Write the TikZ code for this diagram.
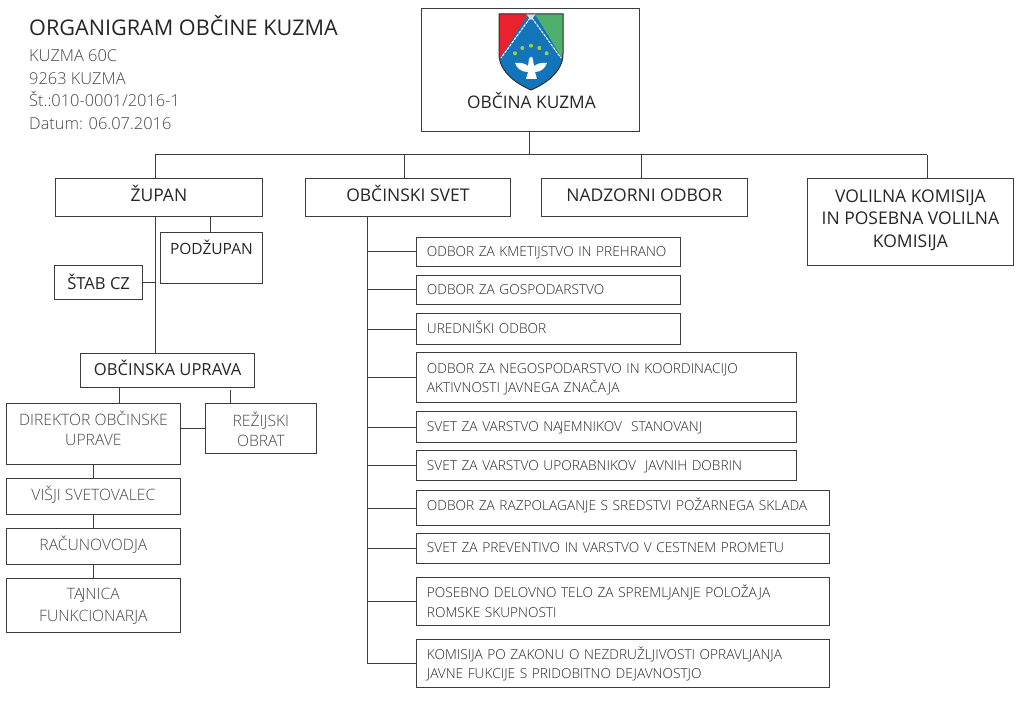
\documentclass[tikz,border=0pt]{standalone}
\usepackage{fontspec}
\setmainfont{Open Sans}
\newfontfamily\lightf{Open Sans Light}
\definecolor{linec}{HTML}{3C3C3C}
\definecolor{darkt}{HTML}{262626}
\definecolor{greyt}{HTML}{484848}
\definecolor{shred}{HTML}{E9222D}
\definecolor{shgreen}{HTML}{4FB06D}
\definecolor{shblue}{HTML}{1274BB}
\definecolor{shdot}{HTML}{A4CF3A}
\tikzset{
 base/.style={draw=linec,line width=1pt,inner sep=0pt,outer sep=0pt,align=center},
 main/.style={base,font=\fontsize{17.5}{22.5}\selectfont,text=darkt},
 minor/.style={base,font=\fontsize{16.6}{22}\selectfont,text=darkt},
 mid/.style={base,font=\lightf\fontsize{15.7}{20.5}\selectfont,text=greyt},
 sub/.style={base,font=\lightf\fontsize{13.7}{19.5}\selectfont,text=darkt,align=left},
 conn/.style={draw=linec,line width=1pt},
 head/.style={anchor=north west,inner sep=0pt,align=left}
}
\newcommand{\tx}[3]{\raisebox{#1}[0pt][0pt]{\begin{tabular}{@{}#2@{}}#3\end{tabular}}}
\newcommand{\bx}[6]{\node[#5,minimum width={(#3-#1-0.2)*1pt},minimum height={(#4-#2-0.5)*1pt}] (#6) at ({(#1+#3)/2-0.1},{(#2+#4)/2-0.25+0.3})}
\newcommand{\sx}[5]{\node[sub,minimum width={(#3-#1-0.2)*1pt},minimum height={(#4-#2-0.5)*1pt},text width={(#3-#1-22)*1pt}] (#5) at ({(#1+#3)/2-0.1},{(#2+#4)/2})}
\begin{document}
\begin{tikzpicture}[x=1pt,y=-1pt]
\useasboundingbox (0,0) rectangle (1024,708);
\fill[white] (0,0) rectangle (1024,708);
% heading
\node[head,font=\fontsize{21.6}{26}\selectfont,text=darkt] (title) at (29,15) {ORGANIGRAM OBČINE KUZMA};
\node[head,font=\lightf\fontsize{16.4}{22.6}\selectfont,text=greyt] (addr) at (29,42.5) {\rule{0pt}{19pt}KUZMA 60C\\9263 KUZMA\\Št.:010-0001/2016-1\\Datum: 06.07.2016};
% top box
\bx{421}{8}{640}{132}{main}{obcina}{};
\node[font=\fontsize{17.3}{20}\selectfont,text=darkt,inner sep=0pt] (obcinat) at (531.5,101) {OBČINA KUZMA};
% shield
\begin{scope}
\path[clip] (499,14) -- (563,14) -- (563,54) .. controls (563,72) and (545,84) .. (531,90) .. controls (517,84) and (499,72) .. (499,54) -- cycle;
\fill[shblue] (495,10) rectangle (567,94);
\fill[shred] (499,14) -- (528,14) -- (500,58) -- (499,58) -- cycle;
\fill[shgreen] (563,14) -- (535,14) -- (562,58) -- (563,58) -- cycle;
\fill[white!85!black] (526,14) -- (536,14) -- (531,20) -- cycle;
\draw[white,line width=1pt,dash pattern=on 3pt off 1pt] (530,18) -- (501,58);
\draw[white,line width=1pt,dash pattern=on 3pt off 1pt] (532,18) -- (561,58);
\foreach \dx/\dy in {515/53.3,522.3/48,531/45.7,539.3/48,546.7/53.3}
  \fill[shdot] (\dx,\dy) circle (2);
\fill[white] (515,63) .. controls (521,62) and (526,64) .. (528,66) -- (529,59) .. controls (530,56) and (533,56) .. (533,60) -- (534,66) .. controls (537,64) and (541,62) .. (547,63) .. controls (545,69) and (540,72) .. (535,72) -- (537,79) -- (526,79) -- (528,72) .. controls (522,72) and (517,69) .. (515,63) -- cycle;
\end{scope}
\draw[linec!80!black,line width=1pt] (499,14) -- (563,14) -- (563,54) .. controls (563,72) and (545,84) .. (531,90) .. controls (517,84) and (499,72) .. (499,54) -- cycle;
% level one
\bx{55}{178}{263}{217}{main}{zupan}{\tx{-3.5pt}{c}{ŽUPAN}};
\bx{305}{178}{511}{217}{main}{svet}{\tx{-3.5pt}{c}{OBČINSKI SVET}};
\bx{541}{178}{748}{217}{main}{nadzor}{\tx{-3.5pt}{c}{NADZORNI ODBOR}};
\bx{807}{178}{1014}{266}{main}{volilna}{\tx{-2.5pt}{c}{VOLILNA KOMISIJA\\IN POSEBNA VOLILNA\\KOMISIJA}};
% mayor branch
\bx{160}{232}{263}{284}{minor}{podzupan}{\fontsize{15.5}{22}\selectfont\tx{4pt}{c}{PODŽUPAN}};
\bx{54.5}{265}{143}{300}{minor}{stab}{\tx{-7pt}{c}{ŠTAB CZ}};
\bx{80.5}{353.5}{255}{388}{minor}{uprava}{\tx{-5pt}{c}{OBČINSKA UPRAVA}};
\bx{6}{403}{181}{465}{mid}{direktor}{\tx{-1pt}{c}{DIREKTOR OBČINSKE\\UPRAVE}};
\bx{205}{403}{317}{454}{mid}{rezijski}{\tx{-7.5pt}{c}{REŽIJSKI\\OBRAT}};
\bx{6}{478}{181}{515}{mid}{visji}{\tx{-3pt}{c}{VIŠJI SVETOVALEC}};
\bx{6}{528}{181}{565}{mid}{racun}{\tx{-3pt}{c}{RAČUNOVODJA}};
\bx{6}{578}{181}{633}{mid}{tajnica}{\fontsize{15.7}{22}\selectfont\tx{-4pt}{c}{TA\kern-2pt JNICA\\FUNKCIONARJA}};
% council branch
\sx{416}{237}{681}{267}{o1}{\tx{-4pt}{l}{ODBOR ZA KMETIJSTVO IN PREHRANO}};
\sx{416}{275}{681}{305}{o2}{\tx{-4pt}{l}{ODBOR ZA GOSPODARSTVO}};
\sx{416}{313}{681}{345}{o3}{\tx{-4pt}{l}{UREDNIŠKI ODBOR}};
\sx{416}{352}{797}{403}{o4}{\tx{-5pt}{l}{ODBOR ZA NEGOSPODARSTVO IN KOORDINACIJO\\AKTIVNOSTI JAVNEGA ZNAČAJA}};
\sx{416}{411}{797}{443}{o5}{\tx{-4pt}{l}{SVET ZA VARSTVO NA\kern-1.5pt JEMNIKOV\ \ STANOVANJ}};
\sx{416}{450}{797}{481}{o6}{\tx{-5pt}{l}{SVET ZA VARSTVO UPORABNIKOV\ \ JAVNIH DOBRIN}};
\sx{416}{490}{830}{526}{o7}{\tx{-2pt}{l}{ODBOR ZA RAZPOLAGANJE S SREDSTVI POŽARNEGA SKLADA}};
\sx{416}{533}{830}{564}{o8}{\tx{-4pt}{l}{SVET ZA PREVENTIVO IN VARSTVO V CESTNEM PROMETU}};
\sx{416}{577}{830}{626}{o9}{\tx{-5.5pt}{l}{POSEBNO DELOVNO TELO ZA SPREMLJANJE POLOŽAJA\\ROMSKE SKUPNOSTI}};
\sx{416}{639}{830}{688}{o10}{\tx{-5pt}{l}{KOMISIJA PO ZAKONU O NEZDRUŽLJIVOSTI OPRAVLJANJA\\JAVNE FUKCIJE S PRIDOBITNO DEJAVNOSTJO}};
% helper points
\coordinate (busL) at (155,155);
\coordinate (busS) at (404,155);
\coordinate (busN) at (641,155);
\coordinate (busV) at (927,155);
\coordinate (busT) at (529,155);
\coordinate (spine) at (367,217);
\coordinate (podx) at (210,217);
\coordinate (direx) at (119,388);
\coordinate (rezx) at (230,390);
\coordinate (stack) at (93,465);
\coordinate (linky) at (0,428);
% connectors
\draw[conn] (busT |- obcina.south) -- (busT);
\draw[conn] (busL) -- (busV);
\draw[conn] (busL) -- (busL |- zupan.north);
\draw[conn] (busS) -- (busS |- svet.north);
\draw[conn] (busN) -- (busN |- nadzor.north);
\draw[conn] (busV) -- (busV |- volilna.north);
\draw[conn] (busL |- zupan.south) -- (busL |- uprava.north);
\draw[conn] (podx) -- (podx |- podzupan.north);
\draw[conn] (stab.east) -- (stab.east -| busL);
\draw[conn] (direx) -- (direx |- direktor.north);
\draw[conn] (rezx) -- (rezx |- rezijski.north);
\draw[conn] (direktor.east |- linky) -- (rezijski.west |- linky);
\draw[conn] (stack) -- (stack |- visji.north);
\draw[conn] (stack |- visji.south) -- (stack |- racun.north);
\draw[conn] (stack |- racun.south) -- (stack |- tajnica.north);
\draw[conn] (spine) -- (spine |- o10.west);
\foreach \n in {o1,o2,o3,o4,o5,o6,o7,o8,o9,o10}
  \draw[conn] (spine |- \n.west) -- (\n.west);
\end{tikzpicture}
\end{document}
